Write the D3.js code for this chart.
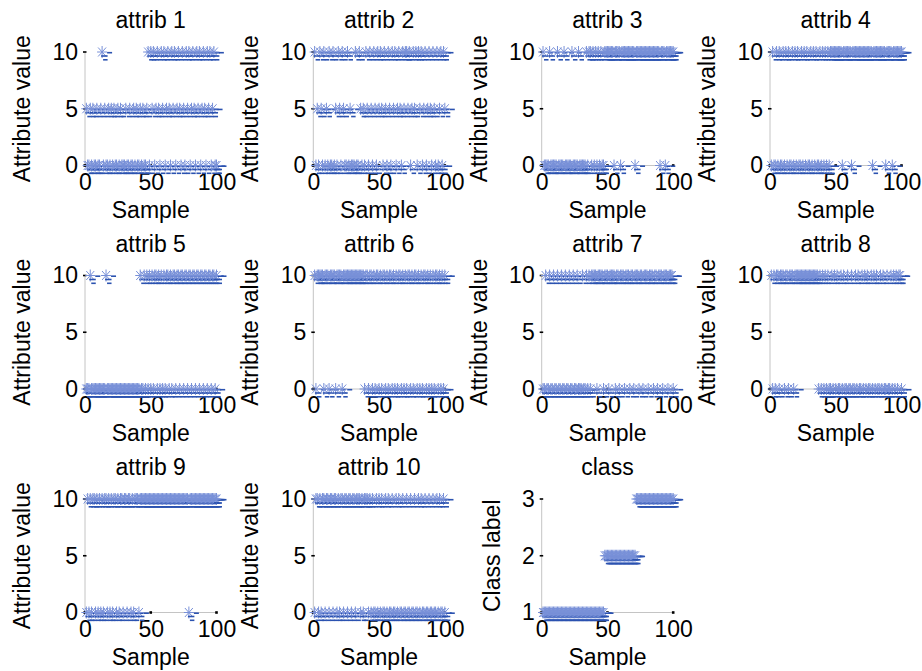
<!DOCTYPE html>
<html><head><meta charset="utf-8">
<script src="https://cdn.jsdelivr.net/npm/d3@7"></script>
<style>body{margin:0;background:#fff}svg{display:block}</style>
</head><body><svg id="c" width="922" height="671"></svg>
<script>
const samples = d3.range(1, 101);
const attrib1 = [5,0,0,5,0,5,0,0,5,0, 0,5,10,0,5,0,0,5,0,5, 0,5,0,0,5,0,5,0,0,0, 5,0,0,5,0,0,5,0,5,0,
  0,5,0,5,0,0,5,10,0,10, 5,10,0,5,10,5,0,10,5,10, 0,5,10,5,0,10,5,10,0,5, 10,5,0,10,5,0,10,5,10,0,
  5,10,5,0,10,5,10,0,5,10, 5,0,10,5,10,0,5,10,0,0];
const attrib2 = [10,0,5,0,10,5,0,10,0,5, 0,10,0,0,10,0,5,0,10,5, 0,10,5,0,0,10,0,5,0,0, 0,10,0,0,10,5,0,5,0,10,
  5,0,10,5,0,10,5,0,10,5, 10,5,0,10,5,0,10,5,0,10, 5,10,0,5,10,5,0,10,5,10, 10,5,10,0,5,10,5,10,0,10,
  5,10,0,5,10,0,5,10,5,0, 10,5,0,10,0,5,10,0,10,5];
const attrib3 = [10,0,0,0,0,10,0,0,0,0, 0,10,0,0,0,0,10,0,0,0, 0,0,10,0,0,0,0,10,0,0, 0,0,0,10,0,10,10,0,10,0,
  10,0,10,0,10,0,0,10,10,10, 10,10,10,10,0,10,10,10,10,0, 10,10,10,10,10,10,10,10,10,10, 0,10,10,10,10,10,10,10,10,10,
  10,10,10,10,10,10,10,10,10,0, 10,10,10,0,10,10,10,10,10,10];
const attrib4 = [0,10,0,0,10,0,10,0,0,10, 0,10,0,10,0,0,10,0,10,0, 10,0,0,10,0,10,0,10,0,0, 10,0,10,0,10,0,0,10,0,10,
  0,10,0,10,0,10,10,10,10,10, 10,10,10,10,0,10,10,10,10,10, 10,0,10,10,10,10,10,10,10,10, 10,10,10,10,10,10,10,0,10,10,
  10,10,10,10,10,10,10,0,10,10, 10,10,0,10,10,10,10,10,10,10];
const attrib5 = [0,0,0,10,0,0,0,0,0,0, 0,0,0,0,0,10,0,0,0,0, 0,0,0,0,0,0,0,0,0,0, 0,0,0,0,0,0,0,0,0,0,
  0,10,0,0,10,0,10,0,10,0, 10,0,10,10,0,10,0,10,0,10, 0,10,10,0,10,0,10,10,0,10, 10,0,10,10,0,10,10,0,10,10,
  0,10,10,0,10,10,0,10,10,0, 10,10,0,10,10,0,10,10,0,10];
const attrib6 = [10,0,10,10,10,10,10,0,10,10, 10,0,10,10,10,10,0,10,10,10, 10,0,10,10,10,10,10,10,10,10, 10,10,10,10,10,10,10,10,0,10,
  10,0,10,10,0,10,0,10,10,0, 10,0,10,10,0,10,0,10,10,0, 10,0,10,0,10,10,0,10,0,10, 0,10,10,0,10,0,10,10,0,10,
  0,10,0,10,10,0,10,0,10,0, 10,0,10,10,0,10,0,10,0,10];
const attrib7 = [0,0,10,0,0,10,0,0,10,0, 0,10,0,0,10,0,0,10,0,0, 10,0,0,10,0,0,10,0,0,0, 10,0,0,10,0,10,0,10,10,10,
  10,0,10,10,10,10,0,10,10,10, 0,10,10,10,10,0,10,10,0,10, 10,10,0,10,10,10,0,10,10,0, 10,10,10,0,10,10,0,10,10,10,
  0,10,10,10,0,10,10,0,10,10, 10,0,10,10,10,0,10,10,10,0];
const attrib8 = [10,0,10,0,10,10,0,10,10,10, 0,10,10,0,10,10,10,0,10,10, 10,10,10,10,10,10,10,10,10,10, 10,10,10,10,10,10,0,10,0,10,
  0,10,0,10,0,0,10,0,10,0, 10,0,0,10,0,10,0,0,10,0, 0,10,0,0,10,0,10,0,0,10, 0,10,0,10,0,0,10,0,10,0,
  10,0,0,10,0,10,0,0,10,0, 0,10,0,10,0,10,0,10,10,0];
const attrib9 = [0,10,0,10,0,10,10,0,10,0, 10,0,10,0,10,10,0,10,0,10, 0,10,10,0,10,0,10,10,0,10, 10,0,10,10,0,10,0,10,10,10,
  0,10,10,10,10,10,10,10,10,10, 10,10,10,10,10,10,10,10,10,10, 10,10,10,10,10,10,10,10,10,10, 10,10,10,10,10,10,10,10,0,10,
  10,10,10,10,10,10,10,10,10,10, 10,10,10,10,10,10,10,10,10,10];
const attrib10 = [0,10,10,0,10,0,10,10,0,10, 10,0,10,10,0,10,10,0,10,0, 10,10,0,10,10,0,10,10,0,10, 10,0,10,10,10,0,10,0,10,10,
  10,0,10,0,10,0,0,10,0,10, 0,10,0,0,10,0,10,0,0,10, 0,0,10,0,10,0,0,10,0,0, 10,0,0,10,0,0,10,0,0,10,
  0,10,0,0,10,0,0,10,0,0, 10,0,0,10,0,10,0,0,10,0];
const classLabel = [1,1,1,1,1,1,1,1,1,1, 1,1,1,1,1,1,1,1,1,1, 1,1,1,1,1,1,1,1,1,1, 1,1,1,1,1,1,1,1,1,1,
  1,1,1,1,1,1,1,2,2,2, 2,2,2,2,2,2,2,2,2,2, 2,2,2,2,2,2,2,2,2,2, 2,3,3,3,3,3,3,3,3,3,
  3,3,3,3,3,3,3,3,3,3, 3,3,3,3,3,3,3,3,3,3];

const titles = ["attrib 1","attrib 2","attrib 3","attrib 4","attrib 5","attrib 6","attrib 7","attrib 8","attrib 9","attrib 10","class"];
const seriesList = [attrib1,attrib2,attrib3,attrib4,attrib5,attrib6,attrib7,attrib8,attrib9,attrib10,classLabel];
const xTicks = [0, 50, 100];
const attribTicks = [0, 5, 10];
const classTicks = [1, 2, 3];
const yLabels = ["Attribute value", "Class label"];

const FONT = "'Liberation Sans', Arial, Helvetica, sans-serif";
const FS = 23;
const colX = [85, 313.3, 541.7, 770];
const rowY = [52, 275.5, 499];
const pw = 131.5, ph = 113.5;
const starColor = "#7890d8", dashColor = "#2b52b0", axisGray = "#c4c4c4";

const svg = d3.select("#c");
svg.append("rect").attr("width",922).attr("height",671).attr("fill","#fff");

seriesList.forEach((vals, k) => {
  const isClass = k === 10;
  const ticks = isClass ? classTicks : attribTicks;
  const x = d3.scaleLinear().domain([0, 100]).range([0, pw]);
  const y = d3.scaleLinear().domain([ticks[0], ticks[2]]).range([ph, 0]);
  const g = svg.append("g").attr("transform", `translate(${colX[k % 4]},${rowY[Math.floor(k / 4)]})`);

  g.append("line").attr("x1", 0).attr("x2", 0).attr("y1", y(ticks[2])).attr("y2", y(ticks[0]))
    .attr("stroke", axisGray).attr("stroke-width", 1);
  g.append("line").attr("x1", 0).attr("x2", x(100)).attr("y1", y(ticks[0])).attr("y2", y(ticks[0]))
    .attr("stroke", axisGray).attr("stroke-width", 1);

  const ya = g.append("g").call(d3.axisLeft(y).tickValues(ticks).tickSize(0).tickPadding(7).tickFormat(d3.format("d")));
  const xa = g.append("g").attr("transform", `translate(0,${ph})`)
    .call(d3.axisBottom(x).tickValues(xTicks).tickSize(0).tickPadding(8).tickFormat(d3.format("d")));
  [ya, xa].forEach(a => {
    a.select(".domain").remove();
    a.selectAll("text").attr("font-family", FONT).attr("font-size", FS).attr("fill", "#000");
  });

  g.selectAll(".yt").data(ticks).join("line")
    .attr("x1", -2).attr("x2", 1.5).attr("y1", d => y(d)).attr("y2", d => y(d))
    .attr("stroke", "#000").attr("stroke-width", 1.6);
  g.selectAll(".xt").data(xTicks).join("rect")
    .attr("x", d => x(d) - 1.3).attr("y", ph - 1.3).attr("width", 2.6).attr("height", 2.6).attr("fill", "#000");

  const pts = g.append("g");
  samples.forEach((s, i) => {
    const px = x(s), py = y(vals[i]);
    const m = pts.append("g").attr("transform", `translate(${px},${py})`);
    const arms = [[-5,0,5,0],[0,-6,0,6],[-4,-4.5,4,4.5],[-4,4.5,4,-4.5]];
    arms.forEach(a => m.append("line").attr("x1",a[0]).attr("y1",a[1]).attr("x2",a[2]).attr("y2",a[3])
      .attr("stroke", starColor).attr("stroke-width", 1));
    const dashes = [[5,0.7,10],[-1,4,5.5],[1,7.8,5.5]];
    dashes.forEach(d => m.append("line").attr("x1",d[0]).attr("x2",d[2]).attr("y1",d[1]).attr("y2",d[1])
      .attr("stroke", dashColor).attr("stroke-width", 1.6));
  });

  g.append("text").attr("x", pw / 2).attr("y", -24).attr("text-anchor", "middle")
    .attr("font-family", FONT).attr("font-size", FS).text(titles[k]);
  g.append("text").attr("x", pw / 2).attr("y", ph + 52).attr("text-anchor", "middle")
    .attr("font-family", FONT).attr("font-size", FS).text("Sample");
  const yl = isClass ? yLabels[1] : yLabels[0];
  const lx = isClass ? -42 : -55;
  g.append("text").attr("transform", `translate(${lx},${ph / 2}) rotate(-90)`).attr("text-anchor", "middle")
    .attr("font-family", FONT).attr("font-size", FS).text(yl);
});
</script></body></html>
